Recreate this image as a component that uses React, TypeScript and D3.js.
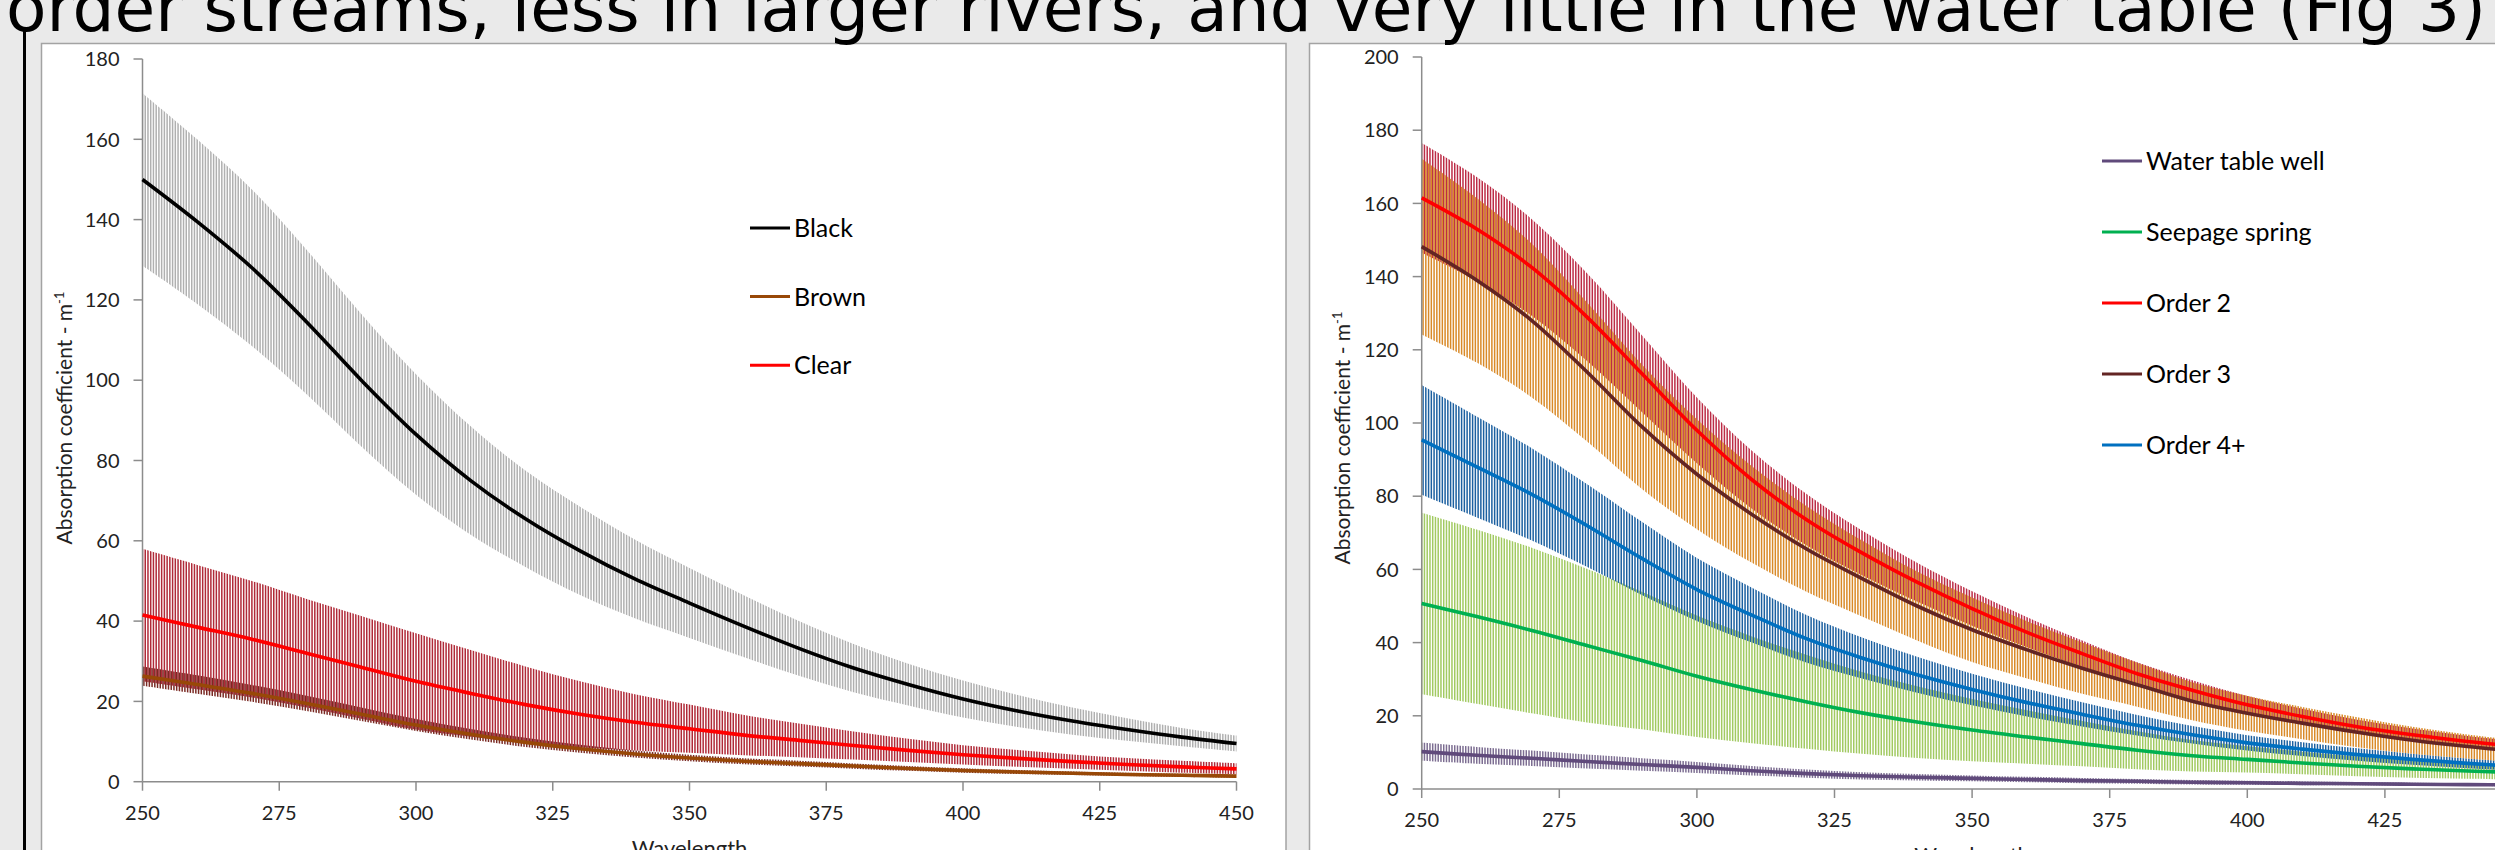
import React from "react";
import * as d3 from "d3";

// ---------------- data ----------------
const wavelengths = [250, 260, 270, 280, 290, 300, 310, 320, 330, 340, 350, 360, 370, 380, 390, 400, 410, 420, 430, 440, 450];
const xTicks = [250, 275, 300, 325, 350, 375, 400, 425, 450];
const leftYTicks = [0, 20, 40, 60, 80, 100, 120, 140, 160, 180];
const rightYTicks = [0, 20, 40, 60, 80, 100, 120, 140, 160, 180, 200];

const titleText = "order streams, less in larger rivers, and very little in the water table (Fig 3)";
const yTitle = "Absorption coefficient - m";
const xTitle = "Wavelength";

// left panel
const blackMean = [150, 139.5, 128, 114.5, 100, 86.5, 75, 65.5, 57.5, 50.5, 44.5, 38.7, 33.2, 28.3, 24.2, 20.6, 17.6, 15.1, 13, 11.1, 9.5];
const blackSd = [21.5, 20.5, 19.5, 18, 16.5, 15, 13.5, 12, 11, 9.8, 8.7, 7.7, 6.8, 6, 5.2, 4.6, 4, 3.4, 2.8, 2.3, 2];
const brownMean = [26.3, 24.2, 22, 19.5, 16.8, 14.1, 11.8, 9.8, 8.2, 6.9, 5.9, 5.1, 4.5, 3.9, 3.3, 2.8, 2.4, 2.1, 1.8, 1.6, 1.4];
const brownSd = [2.4, 2.3, 2.1, 1.9, 1.7, 1.5, 1.3, 1.15, 1, 0.9, 0.8, 0.75, 0.7, 0.65, 0.6, 0.55, 0.5, 0.45, 0.4, 0.4, 0.35];
const clearMean = [41.5, 38.5, 35.5, 32, 28.5, 25, 22, 19.2, 16.8, 14.8, 13.2, 11.6, 10.3, 9, 7.8, 6.7, 5.8, 5, 4.3, 3.7, 3.2];
const clearSd = [16.5, 15.5, 14.5, 13.5, 12.8, 12, 10.8, 9.5, 8.2, 7, 6, 5, 4.2, 3.5, 2.9, 2.4, 2.1, 1.8, 1.6, 1.5, 1.4];

// right panel
const waterMean = [10.2, 9.2, 8.4, 7.5, 6.7, 5.9, 5, 4.2, 3.6, 3.2, 2.9, 2.6, 2.3, 2.1, 1.85, 1.7, 1.55, 1.45, 1.3, 1.2, 1.1];
const waterSd = [2.5, 2.3, 2.1, 1.9, 1.7, 1.5, 1.3, 1.1, 1, 0.9, 0.8, 0.75, 0.7, 0.65, 0.6, 0.55, 0.5, 0.45, 0.4, 0.4, 0.35];
const seepMean = [50.7, 47.1, 43.3, 39.2, 35.1, 30.8, 27.1, 23.8, 20.8, 18.3, 16.1, 14.2, 12.4, 10.6, 9.1, 8.1, 7.1, 6.2, 5.5, 4.9, 4.5];
const seepSd = [24.8, 23.8, 22.6, 21, 18.8, 16.6, 14.6, 12.8, 11.2, 9.8, 8.5, 7.3, 6.2, 5.2, 4.3, 3.6, 3.1, 2.7, 2.4, 2.1, 1.9];
const order2Mean = [161.5, 153, 142.5, 129, 113.5, 98, 84.5, 73.5, 64.5, 56.5, 49.3, 42.8, 37, 31.5, 27, 23, 19.8, 17, 14.8, 13, 11.5];
const order2Sd = [15, 14.2, 13.2, 12, 10.5, 9, 7.9, 7, 6.1, 5.3, 4.7, 4.1, 3.6, 3.1, 2.7, 2.4, 2.1, 1.9, 1.7, 1.5, 1.4];
const order3Mean = [148.2, 139, 128, 114, 99, 86, 75, 65.5, 57.5, 50, 43.5, 38, 33, 28.5, 24, 20.7, 18, 15.5, 13.3, 11.6, 10.2];
const order3Sd = [24, 22.5, 21, 19, 17, 15, 13.2, 11.7, 10.4, 9.4, 8.8, 7.8, 7, 6, 5.2, 4.8, 4.4, 4.1, 3.7, 3.3, 3];
const order4Mean = [95.4, 88, 80.5, 72, 63, 54.5, 47.5, 41, 35.8, 31.2, 27.2, 23.6, 20.4, 17.4, 14.8, 12.6, 10.9, 9.4, 8.1, 7, 6.1];
const order4Sd = [15, 13.8, 12.6, 11.3, 10, 8.6, 7.5, 6.5, 5.6, 4.9, 4.3, 3.8, 3.3, 2.8, 2.4, 2.1, 1.9, 1.7, 1.5, 1.3, 1.2];

type Series = {
  key: string;
  name: string;
  mean: number[];
  sd: number[];
  line: string;
  bar: string;
  shift: number; // hatch phase (fraction of period)
};

const leftSeries: Series[] = [
  { key: "black", name: "Black", mean: blackMean, sd: blackSd, line: "#000000", bar: "#b0b0b0", shift: 0 },
  { key: "brown", name: "Brown", mean: brownMean, sd: brownSd, line: "#984807", bar: "#7a2a24", shift: 0.5 },
  { key: "clear", name: "Clear", mean: clearMean, sd: clearSd, line: "#ff0000", bar: "#b02a38", shift: 0 },
];
const leftBandOrder = ["black", "clear", "brown"];
const leftLineOrder = ["black", "brown", "clear"];

const rightSeries: Series[] = [
  { key: "water", name: "Water table well", mean: waterMean, sd: waterSd, line: "#604a7b", bar: "#7d6e92", shift: 0 },
  { key: "seep", name: "Seepage spring", mean: seepMean, sd: seepSd, line: "#00b050", bar: "#a2ca62", shift: 0 },
  { key: "o2", name: "Order 2", mean: order2Mean, sd: order2Sd, line: "#ff0000", bar: "#bc2c46", shift: 0 },
  { key: "o3", name: "Order 3", mean: order3Mean, sd: order3Sd, line: "#632523", bar: "#d98a28", shift: 0.5 },
  { key: "o4", name: "Order 4+", mean: order4Mean, sd: order4Sd, line: "#0070c0", bar: "#1c60a0", shift: 0.5 },
];
const rightBandOrder = ["water", "seep", "o4", "o2", "o3"];
const rightLineOrder = ["water", "seep", "o4", "o3", "o2"];

// ---------------- layout ----------------
const W = 2495;
const H = 850;
const FONT = "Lato, 'Open Sans', sans-serif";
const CURVE = d3.curveCatmullRom.alpha(0.5);

type PanelProps = {
  id: string;
  plot: { left: number; right: number; top: number; bottom: number };
  yMax: number;
  yTicks: number[];
  series: Series[];
  bandOrder: string[];
  lineOrder: string[];
  legend: { x: number; y: number; step: number };
  yTitleX: number;
  yTitleY: number;
};

function Panel(p: PanelProps) {
  const { plot } = p;
  const x = d3.scaleLinear().domain([250, 450]).range([plot.left, plot.right]);
  const y = d3.scaleLinear().domain([0, p.yMax]).range([plot.bottom, plot.top]);
  const byKey = new Map(p.series.map((s) => [s.key, s]));
  const period = x(250.5) - x(250);
  const hatchW = d3.range(250, 450.0001, 0.5);

  const areaFor = (s: Series) =>
    d3
      .area<number>()
      .x((_, i) => x(wavelengths[i]))
      .y0((_, i) => y(s.mean[i] - s.sd[i]))
      .y1((_, i) => y(s.mean[i] + s.sd[i]))
      .curve(CURVE)(s.mean) || "";
  const lineFor = (s: Series) =>
    d3
      .line<number>()
      .x((_, i) => x(wavelengths[i]))
      .y((d) => y(d))
      .curve(CURVE)(s.mean) || "";

  const axisColor = "#8c8c8c";
  const textColor = "#222";

  return (
    <g>
      <defs>
        {p.bandOrder.map((k) => (
          <clipPath id={`${p.id}-clip-${k}`} key={k}>
            <path d={areaFor(byKey.get(k)!)} />
          </clipPath>
        ))}
      </defs>
      {/* error bars (dense vertical hatching clipped to the +/- band) */}
      {p.bandOrder.map((k) => {
        const s = byKey.get(k)!;
        const d = hatchW
          .map((w) => `M${(x(w) + s.shift * period).toFixed(2)},${plot.top - 5}V${plot.bottom}`)
          .join("");
        return (
          <g key={k} clipPath={`url(#${p.id}-clip-${k})`}>
            <path d={d} stroke={s.bar} strokeWidth={1.5} fill="none" />
          </g>
        );
      })}
      {/* axes */}
      <line x1={plot.left} x2={plot.left} y1={plot.top} y2={plot.bottom} stroke={axisColor} strokeWidth={1.5} />
      <line x1={plot.left} x2={plot.right} y1={plot.bottom} y2={plot.bottom} stroke={axisColor} strokeWidth={1.5} />
      {p.yTicks.map((t) => (
        <g key={t}>
          <line x1={plot.left - 9} x2={plot.left} y1={y(t)} y2={y(t)} stroke={axisColor} strokeWidth={1.5} />
          <text x={plot.left - 23} y={y(t)} dy="0.36em" textAnchor="end" fontFamily={FONT} fontSize={20} fill={textColor}>
            {t}
          </text>
        </g>
      ))}
      {xTicks.map((t) => (
        <g key={t}>
          <line x1={x(t)} x2={x(t)} y1={plot.bottom} y2={plot.bottom + 9} stroke={axisColor} strokeWidth={1.5} />
          <text x={x(t)} y={plot.bottom + 38} textAnchor="middle" fontFamily={FONT} fontSize={20} fill={textColor}>
            {t}
          </text>
        </g>
      ))}
      {/* mean lines */}
      {p.lineOrder.map((k) => {
        const s = byKey.get(k)!;
        return <path key={k} d={lineFor(s)} stroke={s.line} strokeWidth={3.6} fill="none" strokeLinejoin="round" />;
      })}
      {/* axis titles */}
      <text
        transform={`translate(${p.yTitleX},${p.yTitleY}) rotate(-90)`}
        textAnchor="middle"
        fontFamily={FONT}
        fontSize={21}
        fill={textColor}
      >
        {yTitle}
        <tspan dy={-8} fontSize={13}>
          -1
        </tspan>
      </text>
      <text
        x={(plot.left + plot.right) / 2}
        y={plot.bottom + 74}
        textAnchor="middle"
        fontFamily={FONT}
        fontSize={22}
        fill={textColor}
      >
        {xTitle}
      </text>
      {/* legend */}
      {p.series.map((s, i) => {
        const ly = p.legend.y + i * p.legend.step;
        return (
          <g key={s.key}>
            <line x1={p.legend.x} x2={p.legend.x + 40} y1={ly} y2={ly} stroke={s.line} strokeWidth={3} />
            <text x={p.legend.x + 44} y={ly} dy="0.36em" fontFamily={FONT} fontSize={25} fill="#000">
              {s.name}
            </text>
          </g>
        );
      })}
    </g>
  );
}

export default function App() {
  return (
    <svg
      width={W}
      height={H}
      viewBox={`0 0 ${W} ${H}`}
      style={{ position: "absolute", left: 0, top: 0, display: "block" }}
    >
      <rect x={0} y={0} width={W} height={H} fill="#eaeaea" />
      <line x1={24.5} x2={24.5} y1={30} y2={H} stroke="#000" strokeWidth={3} />
      {/* chart frames */}
      <rect x={41.5} y={43.5} width={1244.5} height={900} fill="#fff" stroke="#a3a3a3" strokeWidth={1.5} />
      <rect x={1309.5} y={43.5} width={1300} height={900} fill="#fff" stroke="#a3a3a3" strokeWidth={1.5} />
      <text
        x={6}
        y={31}
        fontFamily="'DejaVu Sans', Verdana, sans-serif"
        fontSize={65}
        fill="#000"
        textLength={2480}
        lengthAdjust="spacingAndGlyphs"
      >
        {titleText}
      </text>
      <Panel
        id="L"
        plot={{ left: 142.5, right: 1236.5, top: 59, bottom: 781.7 }}
        yMax={180}
        yTicks={leftYTicks}
        series={leftSeries}
        bandOrder={leftBandOrder}
        lineOrder={leftLineOrder}
        legend={{ x: 750, y: 228, step: 68.6 }}
        yTitleX={72}
        yTitleY={418}
      />
      <Panel
        id="R"
        plot={{ left: 1421.7, right: 2522.5, top: 57, bottom: 789 }}
        yMax={200}
        yTicks={rightYTicks}
        series={rightSeries}
        bandOrder={rightBandOrder}
        lineOrder={rightLineOrder}
        legend={{ x: 2102, y: 161, step: 71 }}
        yTitleX={1350}
        yTitleY={438}
      />
    </svg>
  );
}
